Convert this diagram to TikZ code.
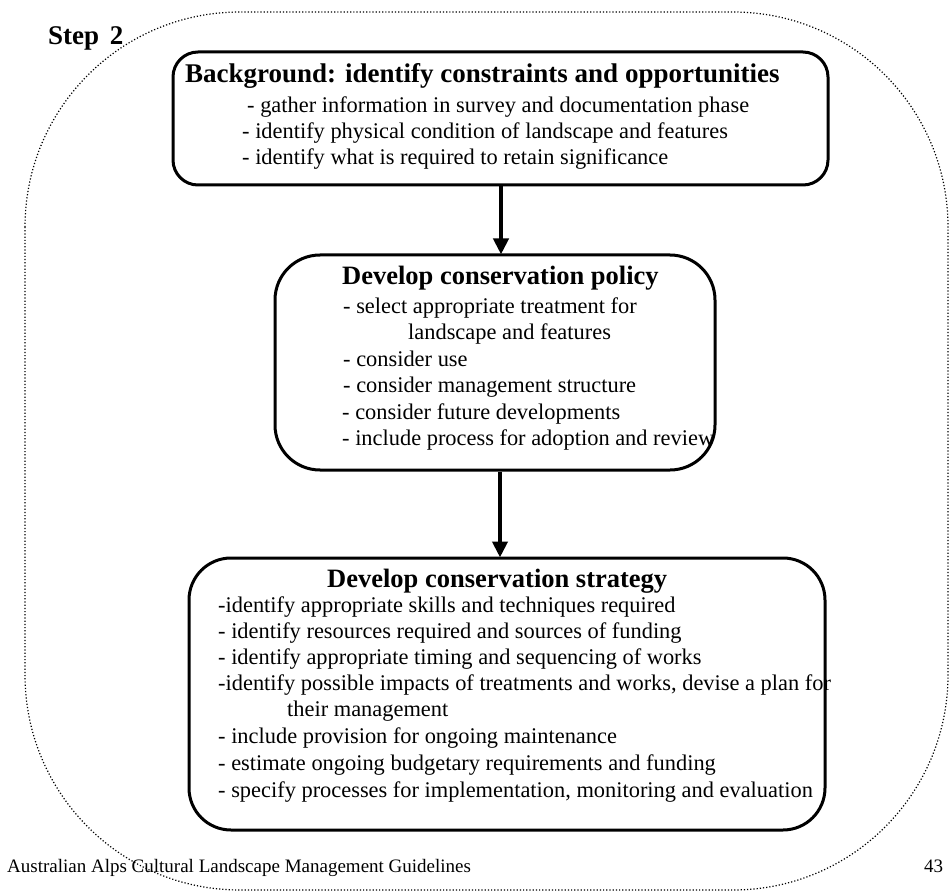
\documentclass[tikz,border=0pt]{standalone}
\usepackage{fontspec}
\setmainfont{Liberation Serif}
\usetikzlibrary{arrows.meta}
\tikzset{
  x=1pt,y=-1pt,
  stepbox/.style={draw=black, line width=3pt, inner sep=0pt},
  flowarrow/.style={line width=4pt, -{Triangle[width=15pt,length=16pt]}, shorten >=-1pt},
  boxtitle/.style={font=\fontsize{26.5}{30}\selectfont\bfseries, inner sep=0pt, anchor=base west},
  boxline/.style={font=\fontsize{22.4}{26}\selectfont, inner sep=0pt, anchor=base west},
  outline/.style={dotted, line width=1.2pt},
  foot/.style={font=\fontsize{19}{22}\selectfont, inner sep=0pt, anchor=base west}
}
\begin{document}
\begin{tikzpicture}
\useasboundingbox (0,0) rectangle (951,896);
\draw[outline, rounded corners=215] (25,12) rectangle (948,890);

\node[font=\fontsize{27}{30}\selectfont\bfseries, inner sep=0pt, anchor=base west] (step) at (48,45) {Step\ \kern4pt2};

% Box 1
\node[stepbox, rounded corners=25, minimum width=655, minimum height=133] (b1) at (500.5,118.5) {};
\node[boxtitle, font=\fontsize{27}{30}\selectfont\bfseries] (t1) at (185,83) {Background: identify constraints and opportunities};
\node[boxline] (l11) at (247,113) {- gather information in survey and documentation phase};
\node[boxline] (l12) at (242,139) {- identify physical condition of landscape and features};
\node[boxline] (l13) at (242,165) {- identify what is required to retain significance};

% Box 2
\node[stepbox, rounded corners=45, minimum width=440, minimum height=215] (b2) at (495,362.5) {};
\node[boxtitle] (t2) at (342,285) {Develop conservation policy};
\node[boxline] (l21) at (343,313) {- select appropriate treatment for};
\node[boxline] (l22) at (408,339) {landscape and features};
\node[boxline] (l23) at (343,366) {- consider use};
\node[boxline] (l24) at (343,392) {- consider management structure};
\node[boxline] (l25) at (342,419) {- consider future developments};
\node[boxline] (l26) at (342,445) {- include process for adoption and review};

% Box 3
\node[stepbox, rounded corners=42, minimum width=636, minimum height=272] (b3) at (507,694) {};
\node[boxtitle] (t3) at (327,587) {Develop conservation strategy};
\node[boxline] (l31) at (218,612) {-identify appropriate skills and techniques required};
\node[boxline] (l32) at (218,638) {- identify resources required and sources of funding};
\node[boxline] (l33) at (218,664) {- identify appropriate timing and sequencing of works};
\node[boxline] (l34) at (218,690) {-identify possible impacts of treatments and works, devise a plan for};
\node[boxline] (l35) at (287,716) {their management};
\node[boxline] (l36) at (218,743) {- include provision for ongoing maintenance};
\node[boxline] (l37) at (218,770) {- estimate ongoing budgetary requirements and funding};
\node[boxline] (l38) at (218,797) {- specify processes for implementation, monitoring and evaluation};

% Arrows
\draw[flowarrow] (b1.south -| 501,0) -- (501,0 |- b2.north);
\draw[flowarrow] (b2.south -| 500,0) -- (500,0 |- b3.north);

% Footer
\node[foot] (f1) at (7,872) {Australian Alps Cultural Landscape Management Guidelines};
\node[foot] (f2) at (924,872) {43};
\end{tikzpicture}
\end{document}
